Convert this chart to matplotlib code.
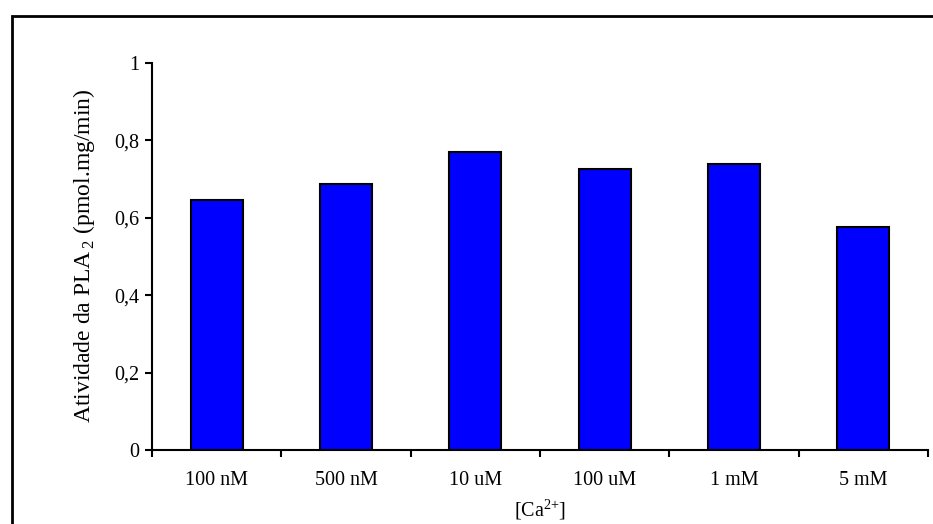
import matplotlib
matplotlib.use("Agg")
import matplotlib.pyplot as plt
from matplotlib.patches import Rectangle
from matplotlib.ticker import FuncFormatter, FixedLocator
import numpy as np

plt.rcParams["font.family"] = ["Liberation Serif", "DejaVu Serif"]
plt.rcParams["mathtext.fontset"] = "custom"
plt.rcParams["mathtext.rm"] = "Liberation Serif"

# concentrações de cálcio e atividade medida
concentracoes = ["100 nM", "500 nM", "10 uM", "100 uM", "1 mM", "5 mM"]
atividade = [0.646, 0.687, 0.769, 0.726, 0.739, 0.577]

W, H = 933, 524
fig = plt.figure(figsize=(W / 100, H / 100), dpi=100, facecolor="white")
ax = fig.add_axes([152 / W, 1 - 450 / H, (928 - 152) / W, (450 - 63) / H])

x = np.arange(len(concentracoes))
ax.bar(x, atividade, width=0.4, color="#0000FF", edgecolor="black",
       linewidth=1.5, zorder=2)

ax.set_xlim(-0.5, len(concentracoes) - 0.5)
ax.set_ylim(0, 1)
ax.set_yticks(np.arange(0, 1.01, 0.2))
ax.yaxis.set_major_formatter(
    FuncFormatter(lambda v, p: "0" if v == 0 else ("1" if v == 1 else f"{v:.1f}".replace(".", ","))))

# rótulos centrados nas categorias, marcas entre elas
ax.set_xticks(x)
ax.set_xticklabels(concentracoes)
ax.tick_params(axis="x", which="major", length=0, pad=15, labelsize=14.5)
ax.xaxis.set_minor_locator(FixedLocator(np.arange(-0.5, len(concentracoes), 1)))
ax.tick_params(axis="x", which="minor", length=5, width=1.5, direction="out")
ax.tick_params(axis="y", length=5, width=1.5, direction="out", labelsize=14.5, pad=4)

for s in ["top", "right"]:
    ax.spines[s].set_visible(False)
for s in ["left", "bottom"]:
    ax.spines[s].set_linewidth(1.5)

ax.set_ylabel("Atividade da PLA$_{\\,2}$ (pmol.mg/min)", fontsize=17)
ax.yaxis.set_label_coords((84 - 152) / (928 - 152), (450 - 256) / (450 - 63))
ax.set_xlabel("[Ca$^{\\text{2+}}$]", fontsize=14.5)
ax.xaxis.set_label_coords((540 - 152) / (928 - 152), -(510 - 450) / (450 - 63))
ax.xaxis.label.set_va("center")
ax.yaxis.label.set_va("center")

# moldura externa
fig.patches.append(Rectangle((12 / W, -0.05), 1.2, 1 - 16 / H + 0.05,
                             transform=fig.transFigure, fill=False,
                             edgecolor="black", linewidth=2))

fig.savefig("out.png", dpi=100, facecolor="white")
